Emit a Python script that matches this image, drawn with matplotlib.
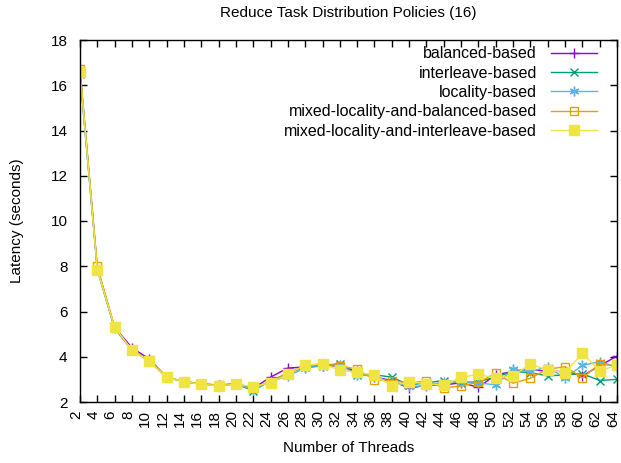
import numpy as np
import matplotlib
matplotlib.use('Agg')
import matplotlib.pyplot as plt
from matplotlib.transforms import ScaledTranslation

plt.rcParams['font.family'] = ['Liberation Sans', 'DejaVu Sans']

threads = np.arange(2, 66, 2)

###Latency per policy (seconds)
balanced = [16.7, 7.9, 5.3, 4.4, 3.9, 3.1, 2.9, 2.8, 2.75, 2.8, 2.6, 3.1, 3.5, 3.55, 3.6, 3.6,
            3.35, 3.1, 2.95, 2.6, 2.75, 2.75, 2.85, 2.65, 3.2, 3.35, 3.45, 3.35, 3.35, 3.15, 3.6, 4.03]
interleave = [16.5, 7.85, 5.25, 4.3, 3.8, 3.1, 2.9, 2.8, 2.72, 2.8, 2.5, 2.95, 3.25, 3.55, 3.6, 3.7,
              3.2, 3.2, 3.1, 2.75, 2.85, 2.95, 2.85, 2.9, 3.1, 3.35, 3.3, 3.15, 3.2, 3.25, 2.95, 3.0]
locality = [16.5, 7.85, 5.25, 4.3, 3.8, 3.1, 2.9, 2.8, 2.72, 2.8, 2.55, 2.9, 3.15, 3.5, 3.6, 3.65,
            3.2, 3.15, 2.85, 2.7, 2.7, 2.9, 2.9, 2.85, 2.75, 3.45, 3.35, 3.55, 3.05, 3.62, 3.78, 3.55]
mixed_bal = [16.7, 8.0, 5.3, 4.3, 3.85, 3.1, 2.9, 2.8, 2.75, 2.8, 2.65, 2.9, 3.3, 3.6, 3.7, 3.6,
             3.45, 2.98, 2.95, 2.83, 2.94, 2.62, 2.71, 2.87, 3.27, 2.83, 3.05, 3.45, 3.56, 3.07, 3.67, 3.59]
mixed_int = [16.6, 7.85, 5.3, 4.3, 3.8, 3.1, 2.9, 2.78, 2.72, 2.78, 2.68, 2.85, 3.22, 3.63, 3.68, 3.41,
             3.31, 3.19, 2.71, 2.9, 2.8, 2.75, 3.09, 3.22, 3.05, 3.16, 3.68, 3.41, 3.30, 4.15, 3.38, 3.63]

fs = 11
fig = plt.figure(figsize=(6.21, 4.63), dpi=100)
ax = fig.add_axes([80/621, 61/463, 537/621, 362/463])

ax.plot(threads, balanced, color='#9400d3', lw=1, marker='+', ms=7, mew=1, label='balanced-based')
ax.plot(threads, interleave, color='#009e73', lw=1, marker='x', ms=5.5, mew=1, label='interleave-based')
ax.plot(threads, locality, color='#56b4e9', lw=1, marker=(6, 2, 0), ms=7, mew=1, label='locality-based')
ax.plot(threads, mixed_bal, color='#e69f00', lw=1, marker='s', ms=6, mew=1, mfc='none',
        label='mixed-locality-and-balanced-based')
ax.plot(threads, mixed_int, color='#f0e442', lw=1, marker='s', ms=6.5, mew=1,
        label='mixed-locality-and-interleave-based')

ax.set_xlim(2, 64)
ax.set_ylim(2, 18)
ax.set_xticks(threads)
ax.set_xticklabels([str(t) for t in threads], rotation=90, fontsize=fs)
ax.set_yticks(np.arange(2, 19, 2))
ax.tick_params(axis='y', labelsize=fs, pad=9)
ax.tick_params(axis='x', pad=6)
ax.tick_params(direction='in', top=True, right=True, length=5, width=1)
for s in ax.spines.values():
    s.set_linewidth(1)

# gnuplot puts rotated labels a bit left of the tick
shift = ScaledTranslation(-4/100, 0, fig.dpi_scale_trans)
for lab in ax.xaxis.get_majorticklabels():
    lab.set_transform(lab.get_transform() + shift)

ax.set_xlabel('Number of Threads', fontsize=fs)
ax.xaxis.set_label_coords(0.5, -0.108)
ax.set_ylabel('Latency (seconds)', fontsize=fs)
ax.yaxis.set_label_coords(-0.104, 0.5)
ax.set_title('Reduce Task Distribution Policies (16)', fontsize=fs, pad=16.5)

ax.legend(loc='upper right', frameon=False, markerfirst=False, fontsize=11.5,
          handlelength=2.9, handletextpad=0.87, labelspacing=0.27,
          borderaxespad=0.0, bbox_to_anchor=(0.975, 1.0))

fig.savefig('out.png', dpi=100)
